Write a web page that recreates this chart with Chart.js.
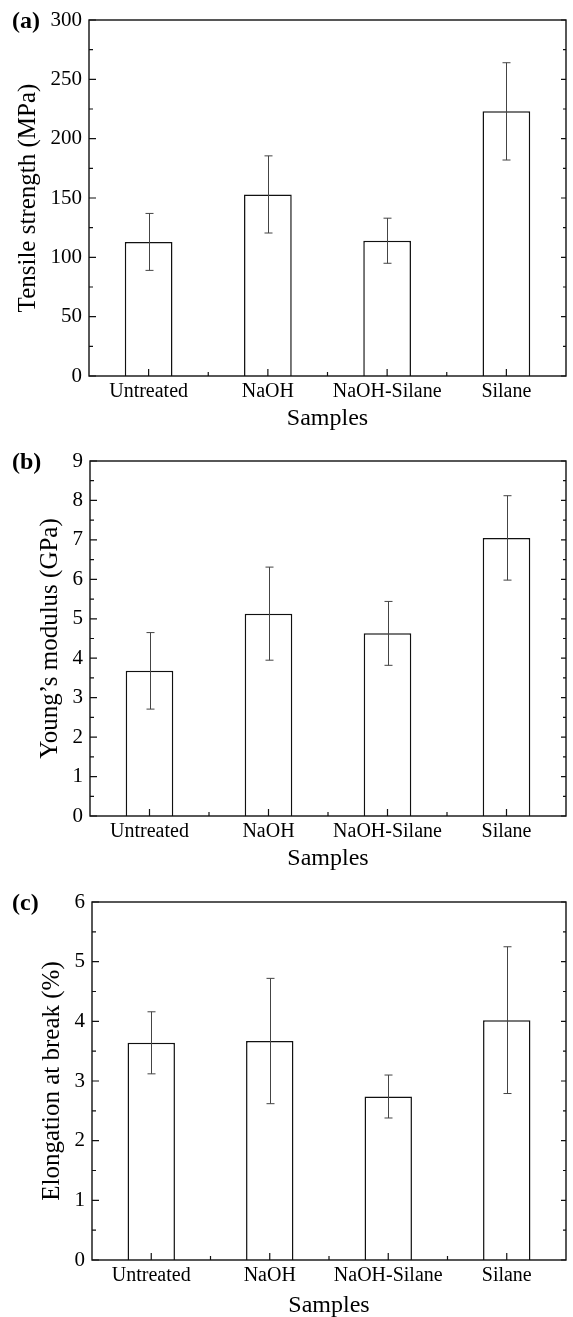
<!DOCTYPE html>
<html>
<head>
<meta charset="utf-8">
<script src="https://cdn.jsdelivr.net/npm/chart.js@4.4.0/dist/chart.umd.min.js"></script>
<style>
	html, body { margin: 0; padding: 0; background: #fff; overflow: hidden; }
	body { width: 573px; height: 1317px; position: relative; }
	canvas { position: absolute; left: 0; }
</style>
</head>
<body>
<canvas id="chartA" width="573" height="440" style="top:0px"></canvas>
<canvas id="chartB" width="573" height="440" style="top:440px"></canvas>
<canvas id="chartC" width="573" height="444" style="top:880px"></canvas>
<script>
"use strict";

// data (mean and +/- error)
const samples = ['Untreated', 'NaOH', 'NaOH-Silane', 'Silane'];

const tensile = [113, 153, 114, 223];
const tensileErr = [24, 32.5, 19, 41];

const modulus = [3.68, 5.13, 4.63, 7.05];
const modulusErr = [0.97, 1.18, 0.81, 1.07];

const elongation = [3.64, 3.67, 2.74, 4.02];
const elongationErr = [0.52, 1.05, 0.36, 1.23];

Chart.defaults.font.family = "'Liberation Serif', 'Times New Roman', serif";
Chart.defaults.color = '#000';

// frame, inward ticks, error bars and panel letter
const framePlugin = {
	id: 'frame',
	afterDatasetsDraw(chart, args, opts) {
		const ctx = chart.ctx;
		const {left, right, top, bottom} = chart.chartArea;
		const x = chart.scales.x, y = chart.scales.y;
		ctx.save();

		// error bars
		const meta = chart.getDatasetMeta(0);
		const vals = chart.data.datasets[0].data;
		ctx.strokeStyle = '#444';
		ctx.lineWidth = 1;
		meta.data.forEach((bar, i) => {
			const cx = Math.round(bar.x) + 0.5;
			const hi = y.getPixelForValue(vals[i] + opts.err[i]);
			const lo = y.getPixelForValue(vals[i] - opts.err[i]);
			ctx.beginPath();
			ctx.moveTo(cx, hi); ctx.lineTo(cx, lo);
			ctx.moveTo(cx - 4, hi); ctx.lineTo(cx + 4, hi);
			ctx.moveTo(cx - 4, lo); ctx.lineTo(cx + 4, lo);
			ctx.stroke();
		});

		// y ticks on left and right spines
		ctx.strokeStyle = '#111';
		ctx.lineWidth = 1.2;
		ctx.beginPath();
		const n = Math.round((y.max - y.min) / opts.minor);
		for (let k = 0; k <= n; k++) {
			const v = y.min + k * opts.minor;
			const py = y.getPixelForValue(v);
			const major = k % 2 === 0;
			ctx.moveTo(left, py); ctx.lineTo(left + (major ? 7 : 4), py);
			ctx.moveTo(right, py); ctx.lineTo(right - (major ? 5 : 3), py);
		}
		// x ticks: major at samples, minor between them
		for (let i = 0; i < samples.length; i++) {
			const px = x.getPixelForValue(i);
			ctx.moveTo(px, bottom); ctx.lineTo(px, bottom - 7);
			if (i < samples.length - 1) {
				const mx = (px + x.getPixelForValue(i + 1)) / 2;
				ctx.moveTo(mx, bottom); ctx.lineTo(mx, bottom - 4);
			}
		}
		ctx.stroke();

		ctx.lineWidth = 1.4;
		ctx.strokeRect(left, top, right - left, bottom - top);

		ctx.fillStyle = '#000';
		ctx.font = "bold 24px 'Liberation Serif', serif";
		ctx.textBaseline = 'middle';
		ctx.textAlign = 'left';
		ctx.fillText(opts.tag, 12, top + 2);
		ctx.restore();
	}
};

const panels = {};

panels.makeConfig = (values, err, yTitle, yMax, yStep, opt) => {
	const data = {
		labels: samples,
		datasets: [
			{
			data: values,
			backgroundColor: '#fff',
			borderColor: '#111',
			borderWidth: 1.5,
			barPercentage: 0.4,
			categoryPercentage: 1.0
			}
		]
	};
	return {
		type: 'bar',
		data: data,
		plugins: [framePlugin],
		options: {
			responsive: false,
			animation: false,
			events: [],
			layout: { padding: { top: opt.top, right: 7, left: 0, bottom: 0 } },
			plugins: {
				legend: { display: false },
				tooltip: { enabled: false },
				frame: { err: err, minor: yStep / 2, tag: opt.tag }
			},
			scales: {
				x: {
					grid: { display: false, drawTicks: false },
					border: { display: false },
					ticks: { font: { size: 20 }, padding: 4, maxRotation: 0 },
					title: { display: true, text: 'Samples', font: { size: 24 }, padding: { top: 0, bottom: opt.xTitlePad } },
					afterFit: (s) => { s.height = 64; }
				},
				y: {
					min: 0,
					max: yMax,
					grid: { display: false, drawTicks: false },
					border: { display: false },
					ticks: { stepSize: yStep, font: { size: 21 }, padding: 7 },
					title: { display: true, text: yTitle, font: { size: 25 }, padding: { top: opt.yTitlePad, bottom: 0 } },
					afterFit: (s) => { s.width = opt.left; }
				}
			}
		}
	};
};

panels.init = () => {
	new Chart(document.getElementById('chartA'),
		panels.makeConfig(tensile, tensileErr, 'Tensile strength (MPa)', 300, 50,
			{ top: 20, left: 89, tag: '(a)', yTitlePad: 13, xTitlePad: 7 }));
	new Chart(document.getElementById('chartB'),
		panels.makeConfig(modulus, modulusErr, 'Young\u2019s modulus (GPa)', 9, 1,
			{ top: 21, left: 90, tag: '(b)', yTitlePad: 35, xTitlePad: 7 }));
	new Chart(document.getElementById('chartC'),
		panels.makeConfig(elongation, elongationErr, 'Elongation at break (%)', 6, 1,
			{ top: 22, left: 92, tag: '(c)', yTitlePad: 37, xTitlePad: 4 }));
};

panels.init();
</script>
</body>
</html>
